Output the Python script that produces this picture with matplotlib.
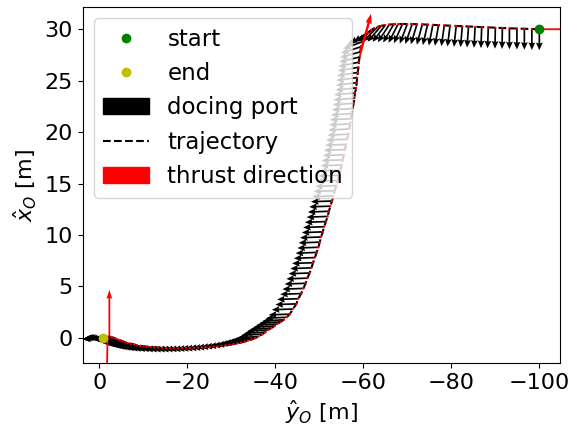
import numpy as np
import matplotlib
matplotlib.use("Agg")
import matplotlib.pyplot as plt
from matplotlib.lines import Line2D

# ---- chaser trajectory in the target orbital frame [m] ----
# approach phase along the upper plateau
y_approach = [-100.0, -98.3, -96.6, -94.9, -93.2, -91.6, -90.0, -88.4, -86.9, -85.4,
              -83.9, -82.5, -81.1, -79.7, -78.4, -77.1, -75.8, -74.6, -73.4, -72.2,
              -71.1, -70.0, -68.9, -67.9, -66.9, -65.9, -65.0, -64.1, -63.3, -62.5,
              -61.8, -61.1, -60.5, -59.9]
x_approach = [30.00, 30.02, 30.04, 30.07, 30.09, 30.12, 30.15, 30.18, 30.20, 30.23,
              30.26, 30.29, 30.31, 30.34, 30.37, 30.40, 30.42, 30.45, 30.47, 30.49,
              30.50, 30.51, 30.51, 30.50, 30.48, 30.45, 30.40, 30.33, 30.24, 30.10,
              29.92, 29.65, 29.30, 28.80]

# descent phase
y_descent = [-59.5, -59.3, -59.15, -59.0, -58.9, -58.75, -58.6, -58.5, -58.4, -58.1,
             -58.0, -57.8, -57.6, -57.4, -57.2, -57.0, -56.8, -56.6, -56.3, -56.1,
             -55.8, -55.6, -55.3, -55.1, -54.8, -54.5, -54.2, -53.9, -53.5, -53.2,
             -52.9, -52.5, -52.2, -51.9, -51.5, -51.1, -50.8, -50.4, -50.1, -49.8,
             -49.4, -49.0, -48.6, -48.2, -47.8, -47.3, -46.9, -46.4, -45.9, -45.2,
             -44.8, -44.0, -43.3]
x_descent = [28.3, 27.8, 27.3, 26.8, 26.3, 25.8, 25.3, 24.8, 24.3, 23.8,
             23.3, 22.8, 22.3, 21.8, 21.3, 20.8, 20.3, 19.8, 19.3, 18.8,
             18.3, 17.8, 17.3, 16.8, 16.3, 15.8, 15.3, 14.8, 14.3, 13.8,
             13.3, 12.8, 12.3, 11.8, 11.3, 10.8, 10.3, 9.8, 9.3, 8.8,
             8.3, 7.8, 7.3, 6.8, 6.3, 5.8, 5.3, 4.8, 4.3, 3.8,
             3.3, 2.8, 2.3]

# final approach towards the docking port
y_final = [-42.6, -41.9, -41.2, -40.5, -39.8, -39.1, -38.4, -37.7, -37.0, -36.2,
           -35.4, -34.6, -33.8, -33.0, -32.2, -31.4, -30.5, -29.6, -28.7, -27.8,
           -26.9, -26.0, -25.1, -24.2, -23.3, -22.4, -21.5, -20.6, -19.7, -18.8,
           -17.9, -17.0, -16.1, -15.2, -14.3, -13.4, -12.5, -11.7, -10.9, -10.1,
           -9.3, -8.6, -7.9, -7.2, -6.5, -5.9, -5.3, -4.7, -4.2, -3.7,
           -3.2, -2.7, -2.3, -1.9, -1.6, -1.3, -1.1, -0.9]
x_final = [2.00, 1.75, 1.55, 1.35, 1.15, 0.95, 0.77, 0.55, 0.35, 0.12,
           -0.03, -0.16, -0.27, -0.37, -0.46, -0.54, -0.61, -0.67, -0.72, -0.77,
           -0.81, -0.85, -0.88, -0.91, -0.93, -0.95, -0.97, -0.98, -0.99, -1.00,
           -1.00, -1.00, -1.00, -0.99, -0.97, -0.96, -0.93, -0.91, -0.87, -0.83,
           -0.78, -0.72, -0.65, -0.58, -0.50, -0.42, -0.34, -0.22, -0.15, -0.07,
           0.01, 0.08, 0.12, 0.12, 0.11, 0.07, 0.04, 0.00]

# docking port orientation [deg]: 0 -> points along -x_O, 90 -> points along +y_O
port_approach = [0, 0, 0, 0, 0, 1, 1, 2, 2, 3, 4, 5, 6, 7, 8, 10, 11, 13, 15, 17,
                 19, 21, 24, 27, 30, 33, 37, 41, 45, 50, 55, 60, 65, 70]
port_descent = [72, 74, 76, 78, 80, 81, 82, 83, 84, 85, 85, 86, 86, 86, 87, 87, 87, 87,
                88, 88, 88, 88, 88, 88, 88, 88, 88, 88, 88, 88, 88, 88, 88, 88, 88,
                88, 88, 88, 88, 88, 88, 88, 88, 88, 88, 88, 88, 88, 88, 88, 88, 88, 88]
port_final = [87, 87, 87, 87, 87, 87, 87, 87, 87, 87, 86, 86, 86, 86, 86, 86, 86, 86,
              86, 86, 86, 86, 86, 86, 86, 86, 86, 86, 86, 86, 86, 86, 86, 86, 86, 86,
              86, 86, 86, 86, 86, 86, 86, 86, 86, 86, 86, 86, 86, 86, 86, 86, 86, 86,
              86, 86, 86, 86]

# thrust impulses (components along y_O and x_O), zero elsewhere
burn_at_y = [-100.0, -59.3, -59.15, -2.3, -1.9]
burn_y = [-1.00, -0.27, -0.29, 0.00, 0.02]
burn_x = [0.00, 0.95, 1.05, 1.17, -1.00]

y_O = np.array(y_approach + y_descent + y_final)
x_O = np.array(x_approach + x_descent + x_final)
port = np.radians(port_approach + port_descent + port_final)

thrust_y = np.zeros_like(y_O)
thrust_x = np.zeros_like(y_O)
for yb, ty, tx in zip(burn_at_y, burn_y, burn_x):
    i = int(np.argmin(np.abs(y_O - yb)))
    thrust_y[i] = ty
    thrust_x[i] = tx

plt.rcParams['font.family'] = ['DejaVu Sans']
plt.rcParams['font.size'] = 16

fig = plt.figure(figsize=(5.82, 4.32), dpi=100)
ax = fig.add_axes([0.142, 0.159, 0.821, 0.825])

# the y_O axis is drawn inverted, so a +y_O component points left on screen
ax.quiver(y_O, x_O, -np.sin(port), -np.cos(port), color='k',
          angles='uv', units='dots', scale_units='dots', scale=1 / 21,
          width=1.7, headwidth=4, headlength=4.5, headaxislength=4, zorder=1)
ax.plot(y_O, x_O, 'k--', lw=1.5, zorder=2)
ax.quiver(y_O, x_O, -thrust_y, thrust_x, color='r',
          angles='uv', units='dots', scale_units='dots', scale=1 / 40,
          width=1.8, headwidth=3.2, headlength=5, headaxislength=4.5,
          minlength=1.4, zorder=3)
ax.plot(y_O[0], x_O[0], 'go', ms=6, zorder=4)
ax.plot(y_O[-1], x_O[-1], 'yo', ms=6, zorder=4)

ax.set_xlim(3.77, -104.8)
ax.set_ylim(-2.48, 32.17)
ax.set_xticks([0, -20, -40, -60, -80, -100])
ax.set_yticks([0, 5, 10, 15, 20, 25, 30])
ax.set_xlabel(r'$\hat{y}_O$ [m]')
ax.set_ylabel(r'$\hat{x}_O$ [m]')

handles = [
    Line2D([], [], color='g', marker='o', ls='none', ms=6),
    Line2D([], [], color='y', marker='o', ls='none', ms=6),
    plt.Rectangle((0, 0), 1, 1, color='k'),
    Line2D([], [], color='k', ls='--', lw=1.5),
    plt.Rectangle((0, 0), 1, 1, color='r'),
]
labels = ['start', 'end', 'docing port', 'trajectory', 'thrust direction']
ax.legend(handles, labels, loc='upper left', fontsize=16.5)

fig.savefig('out.png', dpi=100)
